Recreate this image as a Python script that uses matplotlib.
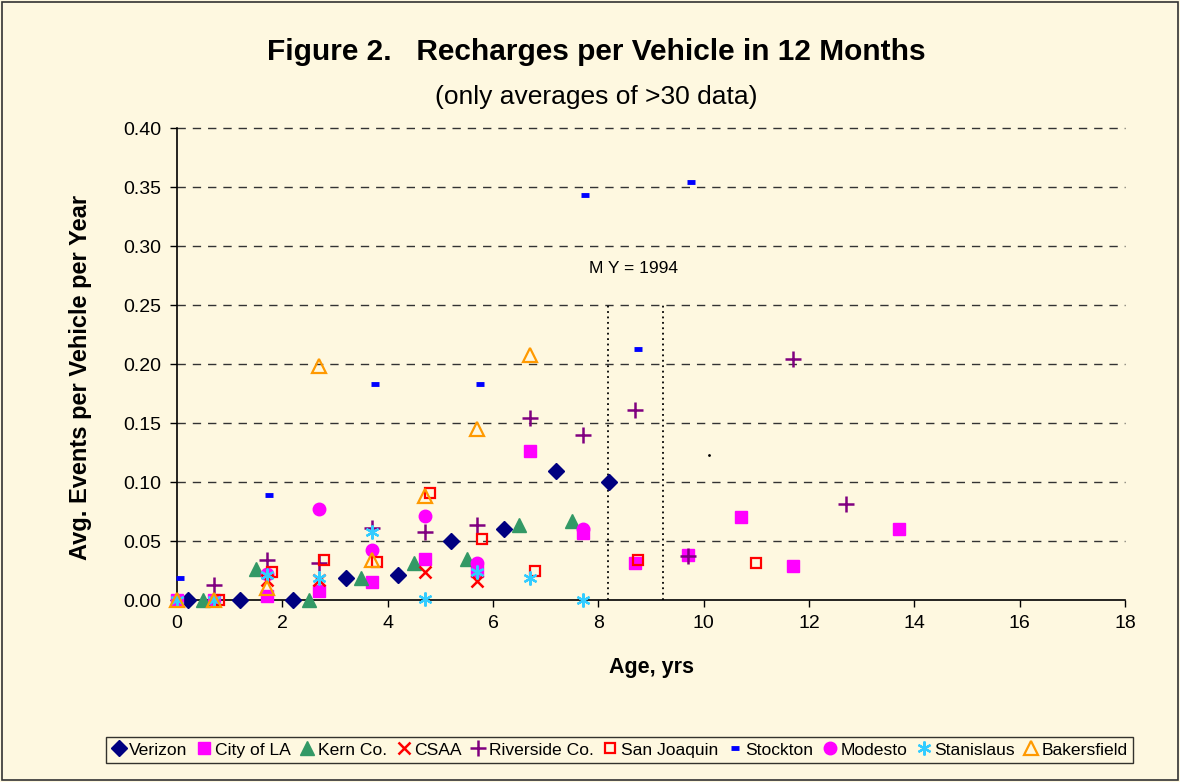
import matplotlib
matplotlib.use('Agg')
import matplotlib.pyplot as plt
from matplotlib.patches import Rectangle

plt.rcParams['font.family'] = ['Liberation Sans', 'DejaVu Sans']

# data
verizon_x = [0.2, 1.2, 2.2, 3.2, 4.2, 5.2, 6.2, 7.2, 8.2]
verizon_y = [0.0, 0.0, 0.0, 0.019, 0.021, 0.050, 0.060, 0.109, 0.100]
cityla_x = [0, 0.7, 1.7, 2.7, 3.7, 4.7, 5.7, 6.7, 7.7, 8.7, 9.7, 10.7, 11.7, 13.7]
cityla_y = [0, 0, 0.003, 0.008, 0.015, 0.035, 0.025, 0.126, 0.057, 0.031, 0.038, 0.070, 0.029, 0.060]
kern_x = [0.5, 1.5, 2.5, 3.5, 4.5, 5.5, 6.5, 7.5]
kern_y = [0, 0.026, 0, 0.019, 0.031, 0.035, 0.064, 0.067]
csaa_x = [1.7, 2.7, 4.7, 5.7]
csaa_y = [0.017, 0.017, 0.024, 0.016]
riverside_x = [0.7, 1.7, 2.7, 3.7, 4.7, 5.7, 6.7, 7.7, 8.7, 9.7, 11.7, 12.7]
riverside_y = [0.013, 0.034, 0.031, 0.061, 0.058, 0.064, 0.154, 0.140, 0.161, 0.037, 0.204, 0.081]
sanjoaquin_x = [0.8, 1.8, 2.8, 3.8, 4.8, 5.8, 6.8, 8.75, 11.0]
sanjoaquin_y = [0, 0.024, 0.034, 0.032, 0.091, 0.052, 0.025, 0.034, 0.031]
stockton_x = [0.05, 1.75, 3.75, 5.75, 7.75, 8.75, 9.75]
stockton_y = [0.019, 0.089, 0.183, 0.183, 0.343, 0.213, 0.354]
modesto_x = [1.7, 2.7, 3.7, 4.7, 5.7, 7.7]
modesto_y = [0.022, 0.077, 0.042, 0.071, 0.031, 0.060]
stanislaus_x = [0, 0.7, 1.7, 2.7, 3.7, 4.7, 5.7, 6.7, 7.7]
stanislaus_y = [0, 0, 0.021, 0.019, 0.058, 0.001, 0.024, 0.019, 0]
bakersfield_x = [0, 0.7, 1.7, 2.7, 3.7, 4.7, 5.7, 6.7]
bakersfield_y = [0, 0, 0.010, 0.198, 0.034, 0.088, 0.145, 0.208]
stray_x = [10.1]
stray_y = [0.123]

my_lines = [8.18, 9.23]
my_top = 0.25

bg = '#FEF8E0'
fig = plt.figure(figsize=(11.8, 7.82), dpi=100, facecolor=bg)
ax = fig.add_axes([0.15, 0.2327, 0.8034, 0.6036])
ax.set_facecolor(bg)

# dashed grid
for v in [0.05, 0.10, 0.15, 0.20, 0.25, 0.30, 0.35, 0.40]:
    ax.axhline(v, color='#333333', lw=1.0, ls=(0, (6, 5)), zorder=1)

# model year band
for xv in my_lines:
    ax.plot([xv, xv], [0, my_top], color='black', lw=1.3, ls=(0, (1, 2)), zorder=1)
ax.text(8.66, 0.281, 'M Y = 1994', ha='center', va='center', fontsize=12.5)

ax.plot(verizon_x, verizon_y, ls='none', marker='D', ms=8, color='#000080', label='Verizon', zorder=3)
ax.plot(cityla_x, cityla_y, ls='none', marker='s', ms=8, color='#FF00FF', label='City of LA', zorder=3)
ax.plot(kern_x, kern_y, ls='none', marker='^', ms=10, color='#339966', label='Kern Co.', zorder=3)
ax.plot(csaa_x, csaa_y, ls='none', marker='x', ms=9, mew=1.8, color='#FF0000', label='CSAA', zorder=4)
ax.plot(riverside_x, riverside_y, ls='none', marker='+', ms=11, mew=1.8, color='#800080', label='Riverside Co.', zorder=4)
ax.plot(sanjoaquin_x, sanjoaquin_y, ls='none', marker='s', ms=7.5, mew=1.6, mfc='none', color='#FF0000', label='San Joaquin', zorder=4)
ax.plot(stockton_x, stockton_y, ls='none', marker='_', ms=5.5, mew=3.5, color='#0000FF', label='Stockton', zorder=4)
ax.plot(modesto_x, modesto_y, ls='none', marker='o', ms=9, color='#FF00FF', label='Modesto', zorder=3)
ax.plot(stanislaus_x, stanislaus_y, ls='none', marker=(6, 2, 0), ms=10, mew=1.6, color='#33CCFF', label='Stanislaus', zorder=4)
ax.plot(bakersfield_x, bakersfield_y, ls='none', marker='^', ms=10, mew=1.6, mfc='none', color='#FF9900', label='Bakersfield', zorder=4)
ax.plot(stray_x, stray_y, ls='none', marker='.', ms=2, color='black')

ax.set_xlim(0, 18)
ax.set_ylim(0, 0.40)
ax.set_xticks(range(0, 19, 2))
ax.set_yticks([0.05 * i for i in range(9)])
ax.set_yticklabels(['%.2f' % (0.05 * i) for i in range(9)])
ax.tick_params(labelsize=14, length=5, width=1, direction='out', pad=6)
for s in ['top', 'right']:
    ax.spines[s].set_visible(False)
ax.spines['left'].set_linewidth(1.2)
ax.spines['bottom'].set_linewidth(1.2)
for l in ax.lines:
    l.set_clip_on(False)

ax.set_xlabel('Age, yrs', fontsize=15.5, fontweight='bold', labelpad=18)
ax.set_ylabel('Avg. Events per Vehicle per Year', fontsize=17, fontweight='bold')
ax.yaxis.set_label_coords(-0.0897, 0.472)

fig.text(0.505, 0.933, 'Figure 2.   Recharges per Vehicle in 12 Months', ha='center', va='center',
         fontsize=21.5, fontweight='bold')
fig.text(0.505, 0.876, '(only averages of >30 data)', ha='center', va='center', fontsize=19)

leg = fig.legend(loc='center', bbox_to_anchor=(0.525, 0.041), ncol=10, fontsize=12.6,
                 frameon=True, fancybox=False, edgecolor='black', facecolor=bg,
                 handlelength=0.9, handletextpad=0.15, columnspacing=0.5, borderpad=0.3,
                 borderaxespad=0.0)
leg.get_frame().set_linewidth(1.0)

fig.patches.append(Rectangle((0.002, 0.002), 0.996, 0.996, transform=fig.transFigure,
                             fill=False, edgecolor='#333333', lw=1.2))

fig.savefig('out.png', dpi=100, facecolor=bg)
